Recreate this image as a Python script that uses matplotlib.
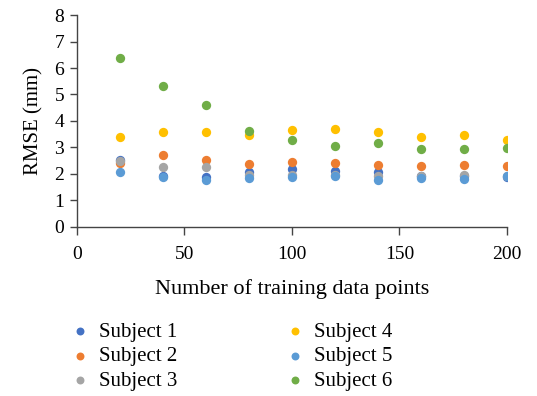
import matplotlib.pyplot as plt

plt.rcParams['font.family'] = ['Liberation Serif', 'DejaVu Serif']

n_points = [20, 40, 60, 80, 100, 120, 140, 160, 180, 200]
subject1 = [2.53, 1.93, 1.87, 2.06, 2.18, 2.11, 2.08, 1.91, 1.91, 1.87]
subject2 = [2.41, 2.73, 2.53, 2.37, 2.45, 2.41, 2.32, 2.29, 2.32, 2.31]
subject3 = [2.47, 2.28, 2.28, 1.97, 1.95, 1.95, 1.91, 1.93, 1.97, 1.91]
subject4 = [3.40, 3.60, 3.60, 3.47, 3.65, 3.69, 3.60, 3.41, 3.47, 3.29]
subject5 = [2.08, 1.87, 1.79, 1.83, 1.88, 1.92, 1.79, 1.83, 1.82, 1.93]
subject6 = [6.39, 5.32, 4.59, 3.61, 3.30, 3.07, 3.18, 2.95, 2.96, 2.98]

series = [subject1, subject2, subject3, subject4, subject5, subject6]
labels = ['Subject 1', 'Subject 2', 'Subject 3', 'Subject 4', 'Subject 5', 'Subject 6']
colors = ['#4472C4', '#ED7D31', '#A5A5A5', '#FFC000', '#5B9BD5', '#70AD47']

fig = plt.figure(figsize=(5.37, 3.96), dpi=100)
ax = fig.add_axes([0.143, 0.427, 0.801, 0.535])

for ys, lab, col in zip(series, labels, colors):
    ax.scatter(n_points, ys, s=45, color=col, label=lab, linewidths=0, zorder=3)

ax.set_xlim(0, 200)
ax.set_ylim(0, 8)
ax.set_xticks(range(0, 201, 50))
ax.set_yticks(range(0, 9))
ax.tick_params(labelsize=14, color='#444444', width=1)
ax.tick_params(axis='x', length=5.5, pad=8)
ax.tick_params(axis='y', length=5, pad=4)
for side in ['top', 'right']:
    ax.spines[side].set_visible(False)
for side in ['left', 'bottom']:
    ax.spines[side].set_color('#444444')
    ax.spines[side].set_linewidth(1)

ax.set_ylabel('RMSE (mm)', fontsize=15, labelpad=8)
ax.set_xlabel('Number of training data points', fontsize=16, labelpad=12)

fig.legend(loc='upper left', bbox_to_anchor=(0.130, 0.187), ncol=2, frameon=False,
           fontsize=15, markerscale=0.85, handletextpad=0.4, columnspacing=5.15,
           labelspacing=0.24, handlelength=1.0, borderpad=0, borderaxespad=0)

fig.savefig('out.png', dpi=100)
